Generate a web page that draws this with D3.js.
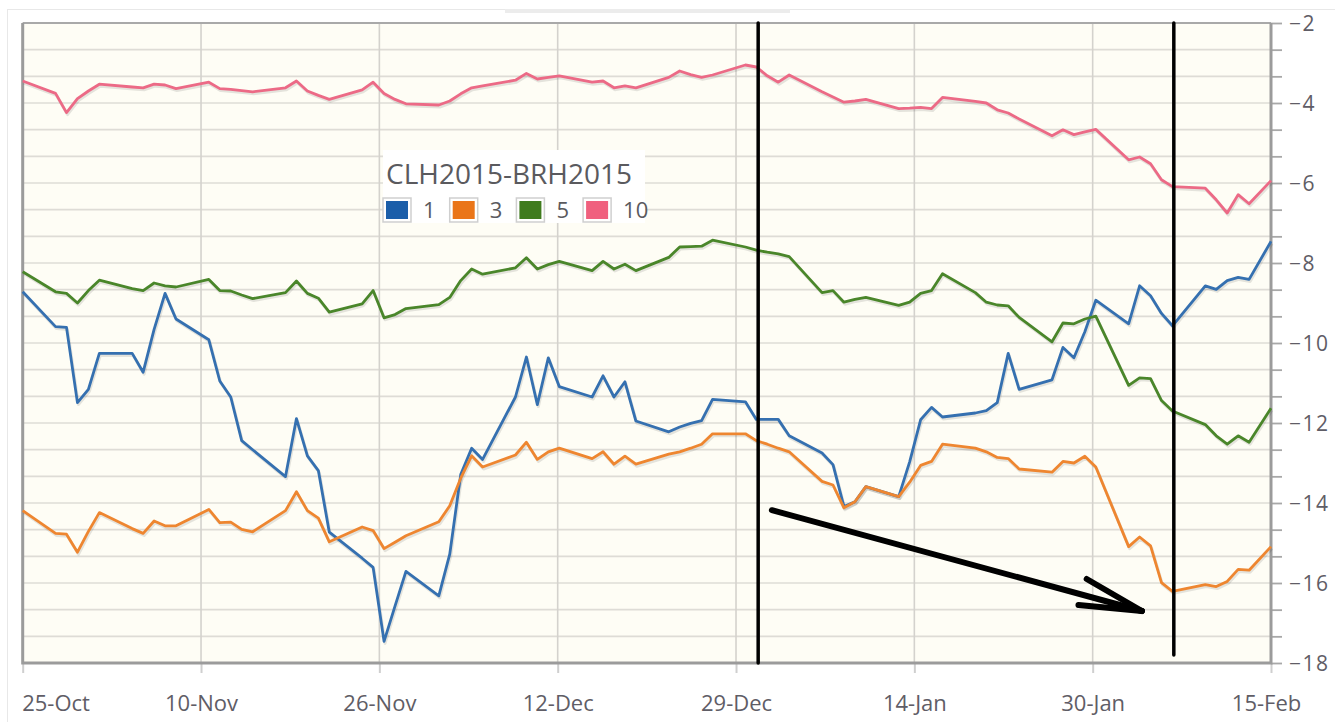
<!DOCTYPE html>
<html>
<head>
<meta charset="utf-8">
<script src="https://cdn.jsdelivr.net/npm/d3@7"></script>
<style>
  body { margin: 0; background: #fff; }
  text { font-family: "Open Sans", sans-serif; }
</style>
</head>
<body>
<svg id="chart"></svg>
<script>
const width = 1335;
const height = 722;

// trading days shown on the chart
const dates = [
    "2014-10-24",
    "2014-10-27", "2014-10-28", "2014-10-29", "2014-10-30", "2014-10-31",
    "2014-11-03", "2014-11-04", "2014-11-05", "2014-11-06", "2014-11-07",
    "2014-11-10", "2014-11-11", "2014-11-12", "2014-11-13", "2014-11-14",
    "2014-11-17", "2014-11-18", "2014-11-19", "2014-11-20", "2014-11-21",
    "2014-11-24", "2014-11-25", "2014-11-26", "2014-11-27", "2014-11-28",
    "2014-12-01", "2014-12-02", "2014-12-03", "2014-12-04", "2014-12-05",
    "2014-12-08", "2014-12-09", "2014-12-10", "2014-12-11", "2014-12-12",
    "2014-12-15", "2014-12-16", "2014-12-17", "2014-12-18", "2014-12-19",
    "2014-12-22", "2014-12-23", "2014-12-24", "2014-12-25", "2014-12-26",
    "2014-12-29", "2014-12-30", "2014-12-31", "2015-01-01", "2015-01-02",
    "2015-01-05", "2015-01-06", "2015-01-07", "2015-01-08", "2015-01-09",
    "2015-01-12", "2015-01-13", "2015-01-14", "2015-01-15", "2015-01-16",
    "2015-01-19", "2015-01-20", "2015-01-21", "2015-01-22", "2015-01-23",
    "2015-01-26", "2015-01-27", "2015-01-28", "2015-01-29", "2015-01-30",
    "2015-02-02", "2015-02-03", "2015-02-04", "2015-02-05", "2015-02-06",
    "2015-02-09", "2015-02-10", "2015-02-11", "2015-02-12", "2015-02-13",
    "2015-02-15"
];

const spread1 = [
    -8.72,
    -9.59, -9.61, -11.49, -11.16, -10.26,
    -10.26, -10.73, -9.66, -8.76, -9.40,
    -9.92, -10.95, -11.35, -12.44, -12.67,
    -13.34, -11.89, -12.82, -13.19, -14.73,
    -15.38, -15.61, -17.46, -16.58, -15.71,
    -16.32, -15.28, -13.29, -12.63, -12.91,
    -11.35, -10.35, -11.54, -10.37, -11.09,
    -11.35, -10.82, -11.35, -10.97, -11.95,
    -12.22, -12.10, -12.01, -11.94, -11.41,
    -11.47, -11.91, -11.91, -11.91, -12.32,
    -12.75, -13.04, -14.09, -13.97, -13.59,
    -13.84, -12.97, -11.92, -11.61, -11.85,
    -11.75, -11.69, -11.49, -10.26, -11.16,
    -10.92, -10.11, -10.37, -9.72, -8.93,
    -9.52, -8.57, -8.82, -9.26, -9.57,
    -8.57, -8.66, -8.44, -8.36, -8.41,
    -7.46
];

const spread3 = [
    -14.19,
    -14.76, -14.78, -15.23, -14.71, -14.24,
    -14.64, -14.76, -14.45, -14.57, -14.57,
    -14.16, -14.49, -14.48, -14.66, -14.72,
    -14.19, -13.72, -14.19, -14.38, -14.97,
    -14.60, -14.69, -15.14, -14.98, -14.82,
    -14.47, -14.07, -13.38, -12.82, -13.10,
    -12.80, -12.48, -12.91, -12.72, -12.63,
    -12.89, -12.72, -13.03, -12.83, -13.03,
    -12.78, -12.72, -12.63, -12.53, -12.27,
    -12.27, -12.44, -12.53, -12.63, -12.72,
    -13.46, -13.55, -14.12, -13.97, -13.59,
    -13.84, -13.48, -13.06, -12.96, -12.53,
    -12.63, -12.72, -12.86, -12.89, -13.15,
    -13.23, -12.96, -13.00, -12.83, -13.10,
    -15.09, -14.85, -15.07, -15.99, -16.21,
    -16.04, -16.09, -15.96, -15.66, -15.68,
    -15.09
];

const spread5 = [
    -8.22,
    -8.72, -8.76, -9.00, -8.69, -8.43,
    -8.64, -8.69, -8.50, -8.57, -8.60,
    -8.41, -8.69, -8.70, -8.80, -8.89,
    -8.74, -8.45, -8.76, -8.88, -9.23,
    -9.02, -8.69, -9.37, -9.29, -9.14,
    -9.04, -8.86, -8.44, -8.15, -8.28,
    -8.12, -7.87, -8.15, -8.04, -7.96,
    -8.19, -7.96, -8.15, -8.03, -8.19,
    -7.86, -7.60, -7.59, -7.58, -7.43,
    -7.60, -7.68, -7.73, -7.77, -7.84,
    -8.74, -8.69, -8.98, -8.91, -8.86,
    -9.06, -8.98, -8.76, -8.69, -8.27,
    -8.74, -8.98, -9.05, -9.07, -9.36,
    -9.97, -9.50, -9.52, -9.40, -9.33,
    -11.06, -10.87, -10.89, -11.44, -11.70,
    -12.04, -12.32, -12.53, -12.32, -12.48,
    -11.63
];

const spread10 = [
    -3.45,
    -3.76, -4.24, -3.89, -3.70, -3.53,
    -3.60, -3.62, -3.53, -3.55, -3.64,
    -3.48, -3.64, -3.66, -3.69, -3.72,
    -3.62, -3.45, -3.70, -3.81, -3.91,
    -3.67, -3.48, -3.76, -3.91, -4.02,
    -4.05, -3.95, -3.77, -3.62, -3.57,
    -3.43, -3.26, -3.40, -3.36, -3.32,
    -3.48, -3.45, -3.62, -3.57, -3.62,
    -3.36, -3.20, -3.29, -3.36, -3.30,
    -3.05, -3.10, -3.32, -3.48, -3.30,
    -3.72, -3.85, -3.98, -3.95, -3.91,
    -4.14, -4.13, -4.11, -4.14, -3.86,
    -3.96, -4.00, -4.17, -4.25, -4.40,
    -4.82, -4.67, -4.79, -4.72, -4.66,
    -5.42, -5.35, -5.52, -5.92, -6.09,
    -6.13, -6.42, -6.75, -6.29, -6.52,
    -5.94
];

const seriesNames = ["1", "3", "5", "10"];
const seriesValues = [spread1, spread3, spread5, spread10];
const lineColors = ["#3570b0", "#ee8630", "#4a862a", "#ec6a86"];
const swatchColors = ["#1b5ea9", "#ea7519", "#3f7b1e", "#f0607e"];
const legendTitle = "CLH2015-BRH2015";

const xTickLabels = ["25-Oct", "10-Nov", "26-Nov", "12-Dec", "29-Dec", "14-Jan", "30-Jan", "15-Feb"];
const yTickLabels = [-2, -4, -6, -8, -10, -12, -14, -16, -18];

// hand drawn marks: two vertical bars and an arrow (date, value)
const markBars = [["2014-12-30T04:00", -2, -18], ["2015-02-06T03:00", -2, -17.8]];
const arrowShaft = [["2014-12-31T10:00", -14.18], ["2015-02-03T05:00", -16.7]];
const arrowBarbs = [
    [["2015-01-29T04:00", -15.9], ["2015-02-03T05:00", -16.7]],
    [["2015-01-28T10:00", -16.55], ["2015-02-03T05:00", -16.7]]
];

const parse = d3.isoParse;
const plotLeft = 22.7, plotRight = 1271, plotTop = 23, plotBottom = 663;

const x = d3.scaleTime()
    .domain([parse(dates[0]), parse(dates[dates.length - 1])])
    .range([plotLeft, plotRight]);
const y = d3.scaleLinear().domain([-18, -2]).range([plotBottom, plotTop]);

const t0 = +x.domain()[0], t1 = +x.domain()[1];
const xTickDates = xTickLabels.map((d, i) => new Date(t0 + i * (t1 - t0) / (xTickLabels.length - 1)));
const yGrid = d3.range(25).map(i => -2 - i * 2 / 3);

const svg = d3.select("#chart")
    .attr("width", width)
    .attr("height", height);

// outer frame
svg.append("rect")
    .attr("x", 7.5).attr("y", 9.5)
    .attr("width", width).attr("height", height)
    .attr("fill", "none").attr("stroke", "#e8e8e8");
svg.append("rect")
    .attr("x", 505).attr("y", 9).attr("width", 285).attr("height", 4)
    .attr("fill", "#ececec");

// plot background
svg.append("rect")
    .attr("x", plotLeft).attr("y", plotTop)
    .attr("width", plotRight - plotLeft).attr("height", plotBottom - plotTop)
    .attr("fill", "#fefdf5");

// grid
svg.append("g").selectAll("line").data(yGrid).enter()
    .append("line")
    .attr("x1", plotLeft).attr("x2", plotRight)
    .attr("y1", d => y(d)).attr("y2", d => y(d))
    .attr("stroke", "#dedcd6").attr("stroke-width", 1.6);

svg.append("g").selectAll("line").data(xTickDates).enter()
    .append("line")
    .attr("x1", d => x(d)).attr("x2", d => x(d))
    .attr("y1", plotTop).attr("y2", plotBottom)
    .attr("stroke", "#d4d2cd").attr("stroke-width", 1.6);

// x axis
const xAxis = svg.append("g")
    .attr("transform", "translate(0," + plotBottom + ")")
    .call(d3.axisBottom(x).tickValues(xTickDates).tickSize(10).tickFormat((d, i) => xTickLabels[i]));
xAxis.select(".domain").remove();
xAxis.selectAll("line").attr("stroke", "#cfcfcf").attr("stroke-width", 2);
xAxis.selectAll("text")
    .attr("y", 48)
    .attr("dy", 0)
    .attr("fill", "#5f5d66")
    .attr("font-size", "22px")
    .attr("text-anchor", (d, i) => i === 0 ? "start" : "middle")
    .attr("dx", (d, i) => i === 0 ? -1 : (i === xTickLabels.length - 1 ? -5 : 0));

// y axis on the right
const yMinor = svg.append("g")
    .attr("transform", "translate(" + plotRight + ",0)")
    .call(d3.axisRight(y).tickValues(yGrid).tickSize(11).tickFormat(""));
yMinor.select(".domain").remove();
yMinor.selectAll("line").attr("stroke", "#a8a8a8").attr("stroke-width", 1.8);

const yAxis = svg.append("g")
    .attr("transform", "translate(" + plotRight + ",0)")
    .call(d3.axisRight(y).tickValues(yTickLabels).tickSize(0).tickPadding(18));
yAxis.select(".domain").remove();
yAxis.selectAll("text")
    .attr("fill", "#5f5d66")
    .attr("font-size", "21px")
    .attr("letter-spacing", "1.5px")
    .attr("dy", "0.36em");

// plot border
svg.append("line")
    .attr("x1", plotLeft).attr("x2", plotRight).attr("y1", plotTop).attr("y2", plotTop)
    .attr("stroke", "#a9a9a9").attr("stroke-width", 2);
svg.append("path")
    .attr("d", "M" + plotLeft + "," + plotTop + "V" + plotBottom + "H" + plotRight + "V" + plotTop)
    .attr("fill", "none").attr("stroke", "#9b9b9b").attr("stroke-width", 3);

// lines
const line = d3.line()
    .x((d, i) => x(parse(dates[i])))
    .y(d => y(d));

svg.append("g").selectAll("path").data(seriesValues).enter()
    .append("path")
    .attr("d", line)
    .attr("transform", "translate(1,2)")
    .attr("fill", "none")
    .attr("stroke", "rgba(0,0,0,0.10)")
    .attr("stroke-width", 3)
    .attr("stroke-linejoin", "round");

svg.append("g").selectAll("path").data(seriesValues).enter()
    .append("path")
    .attr("d", line)
    .attr("fill", "none")
    .attr("stroke", (d, i) => lineColors[i])
    .attr("stroke-width", 2.8)
    .attr("stroke-linejoin", "round");

// hand drawn annotation
const marks = svg.append("g");
marks.selectAll("line.bar").data(markBars).enter()
    .append("line")
    .attr("class", "bar")
    .attr("x1", d => x(parse(d[0]))).attr("x2", d => x(parse(d[0])))
    .attr("y1", d => y(d[1])).attr("y2", d => y(d[2]))
    .attr("stroke", "#000").attr("stroke-width", 3.5)
    .attr("stroke-linecap", "round");

const markLine = d3.line().x(d => x(parse(d[0]))).y(d => y(d[1]));
marks.append("path")
    .attr("d", markLine(arrowShaft))
    .attr("fill", "none").attr("stroke", "#000").attr("stroke-width", 6)
    .attr("stroke-linecap", "round");
marks.selectAll("path.barb").data(arrowBarbs).enter()
    .append("path")
    .attr("class", "barb")
    .attr("d", markLine)
    .attr("fill", "none").attr("stroke", "#000").attr("stroke-width", 6)
    .attr("stroke-linecap", "round");

// legend
const legend = svg.append("g").attr("transform", "translate(383,150)");
legend.append("rect")
    .attr("width", 262).attr("height", 73)
    .attr("fill", "#fff");
legend.append("text")
    .attr("x", 3).attr("y", 34)
    .attr("fill", "#5a5a5e")
    .attr("font-size", "28px")
    .text(legendTitle);

const items = legend.selectAll("g.item").data(seriesNames).enter()
    .append("g")
    .attr("class", "item")
    .attr("transform", (d, i) => "translate(" + (i * 66.7) + ",48)");
items.append("rect")
    .attr("x", 0).attr("y", 0).attr("width", 28).attr("height", 24)
    .attr("fill", "#fff").attr("stroke", "#cfcfcf").attr("stroke-width", 1.5);
items.append("rect")
    .attr("x", 3).attr("y", 3).attr("width", 22).attr("height", 18)
    .attr("fill", (d, i) => swatchColors[i]);
items.append("text")
    .attr("x", 40).attr("y", 20)
    .attr("fill", "#5a5a5e")
    .attr("font-size", "22px")
    .text(d => d);
</script>
</body>
</html>
